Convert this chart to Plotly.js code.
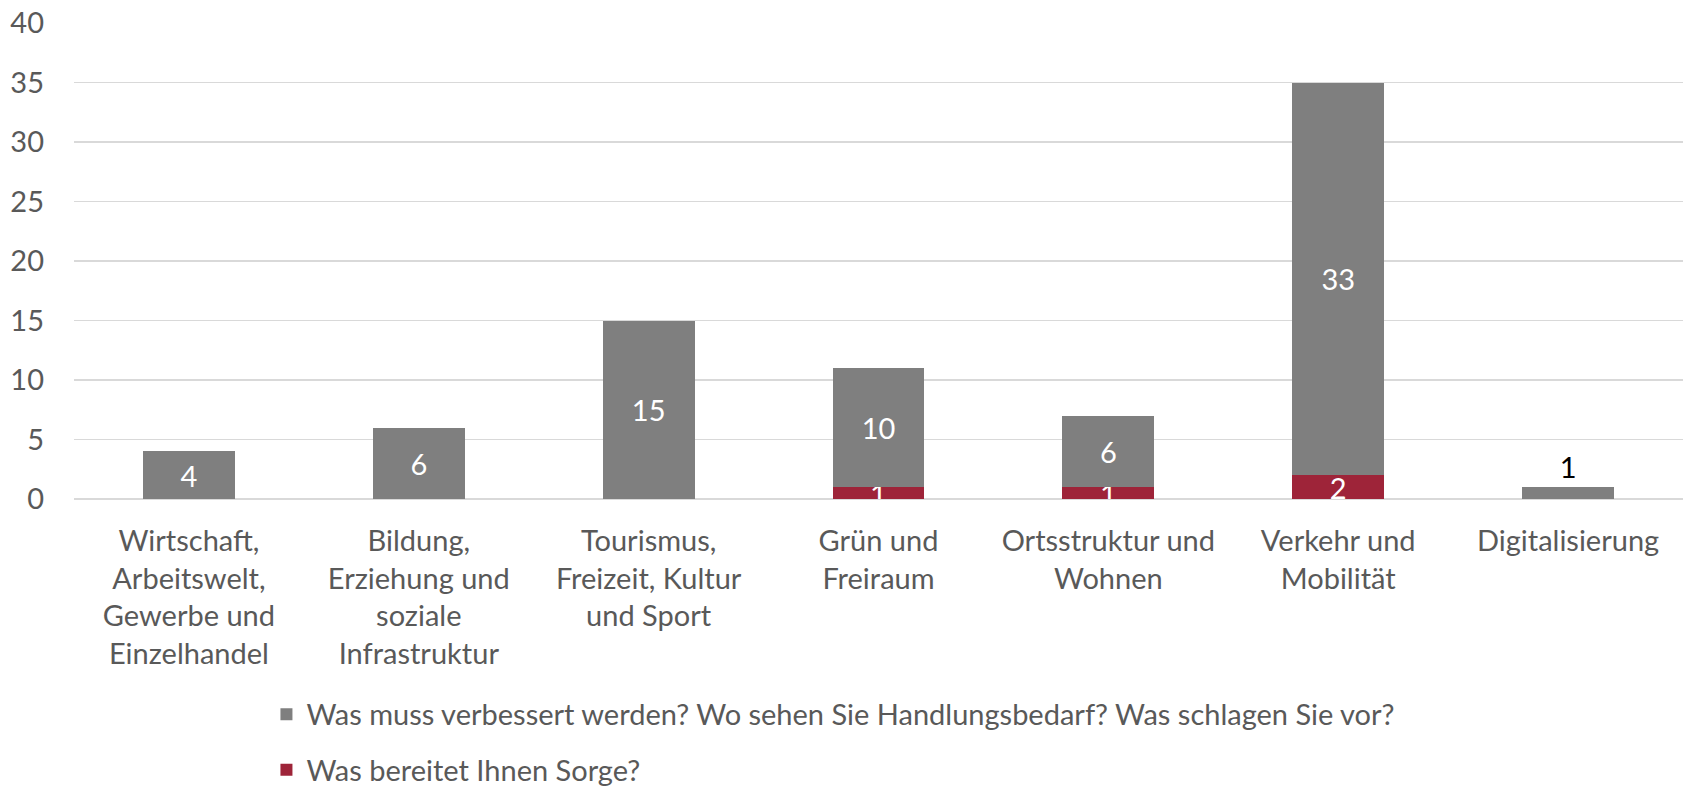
<!DOCTYPE html>
<html>
<head>
<meta charset="utf-8">
<script src="https://cdn.plot.ly/plotly-3.0.1.min.js"></script>
<style>html,body{margin:0;padding:0;background:#fff;}#chart{width:1686px;height:789px;}</style>
</head>
<body>
<div id="chart"></div>
<script>
const categories = [
  "Wirtschaft,<br>Arbeitswelt,<br>Gewerbe und<br>Einzelhandel",
  "Bildung,<br>Erziehung und<br>soziale<br>Infrastruktur",
  "Tourismus,<br>Freizeit, Kultur<br>und Sport",
  "Grün und<br>Freiraum",
  "Ortsstruktur und<br>Wohnen",
  "Verkehr und<br>Mobilität",
  "Digitalisierung"
];
const seriesNames = [
  "Was muss verbessert werden? Wo sehen Sie Handlungsbedarf? Was schlagen Sie vor?",
  "Was bereitet Ihnen Sorge?"
];
const handlungsbedarf = [4, 6, 15, 10, 6, 33, 1];
const sorge = [null, null, null, 1, 1, 2, null];
const yTicks = [0, 5, 10, 15, 20, 25, 30, 35, 40];

const FONT = "Lato, 'Open Sans', sans-serif";
const FS = 29;
const traces = [
  {
    type: "bar", name: seriesNames[1], x: categories, y: sorge,
    marker: {color: "#9e2439"}, legendgroup: "b", legendrank: 2,
    text: sorge.map(v => v == null ? "" : String(v)),
    textposition: "inside", insidetextanchor: "middle", constraintext: "none", textangle: 0,
    textfont: {color: "#ffffff", size: FS, family: FONT},
    hoverinfo: "skip"
  },
  {
    type: "bar", name: seriesNames[0], x: categories, y: handlungsbedarf,
    marker: {color: "#7f7f7f"}, legendgroup: "a", legendrank: 1,
    text: handlungsbedarf.map(String),
    textposition: handlungsbedarf.map(v => v < 2 ? "outside" : "inside"),
    insidetextanchor: "middle", constraintext: "none", textangle: 0, cliponaxis: false,
    insidetextfont: {color: "#ffffff", size: FS, family: FONT},
    outsidetextfont: {color: "#000000", size: FS, family: FONT},
    hoverinfo: "skip"
  }
];
const layout = {
  width: 1686, height: 789,
  margin: {l: 74, r: 3, t: 23, b: 290},
  paper_bgcolor: "#fff", plot_bgcolor: "#fff",
  barmode: "stack", bargap: 0.6,
  font: {family: FONT, color: "#595959", size: FS},
  xaxis: {
    tickfont: {size: FS, color: "#595959"}, showgrid: false, showline: false,
    ticks: "", ticklabelstandoff: 22, automargin: false
  },
  yaxis: {
    range: [0, 40], tickvals: yTicks, ticktext: yTicks.map(String),
    showgrid: true, gridcolor: "#d9d9d9", gridwidth: 1.5,
    zeroline: true, zerolinecolor: "#d9d9d9", zerolinewidth: 1.5,
    tickfont: {size: FS, color: "#595959"}, ticks: "", ticklabelstandoff: 29, automargin: false
  },
  showlegend: true,
  legend: {
    orientation: "v", x: 0.472, xanchor: "center",
    yref: "container", y: 0.127, yanchor: "top",
    traceorder: "grouped", tracegroupgap: 15,
    font: {size: FS, color: "#595959", family: FONT}, bgcolor: "rgba(0,0,0,0)"
  }
};
Plotly.newPlot("chart", traces, layout, {displayModeBar: false, staticPlot: true});
</script>
</body>
</html>
